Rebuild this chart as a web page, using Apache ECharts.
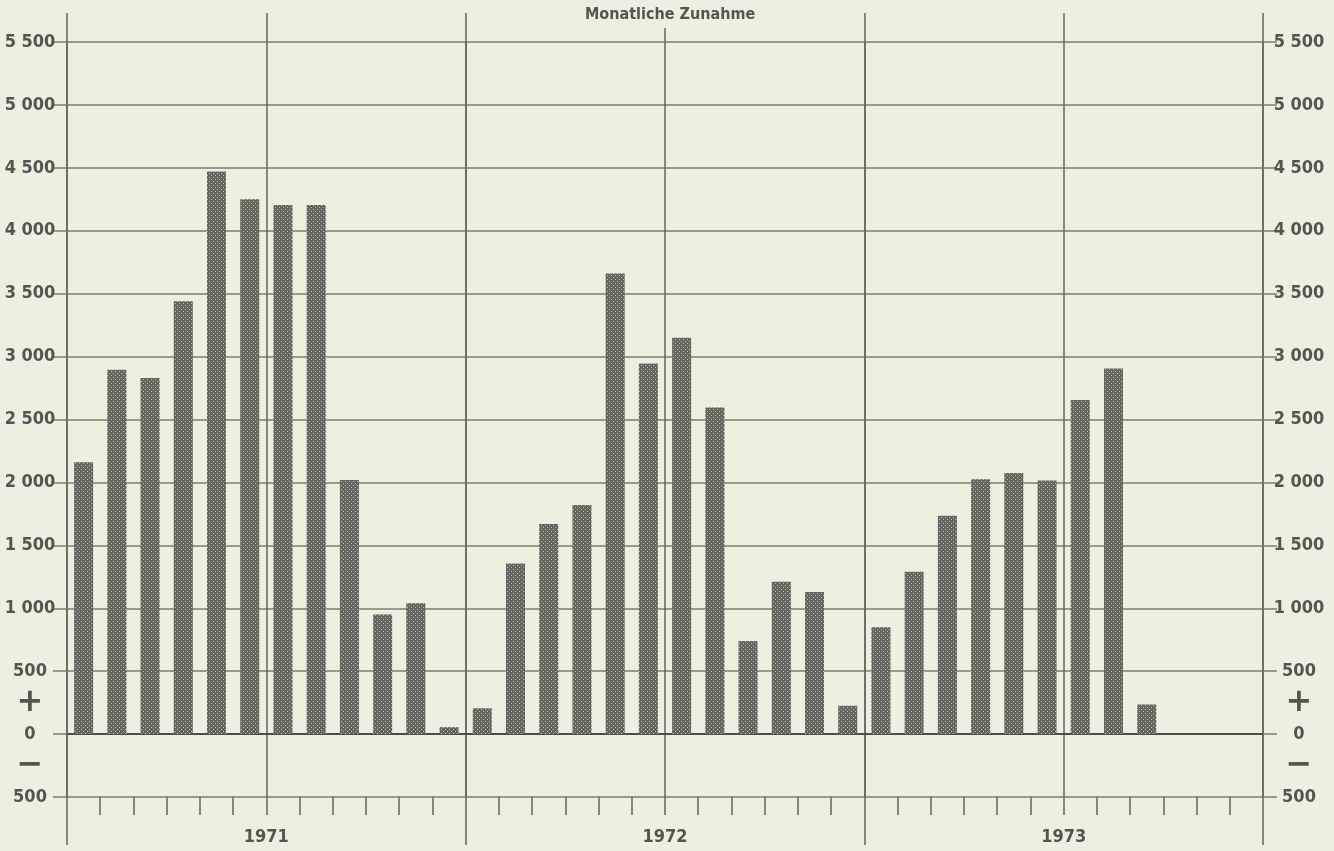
<!DOCTYPE html>
<html><head><meta charset="utf-8">
<script src="https://cdn.jsdelivr.net/npm/echarts@6/dist/echarts.min.js"></script>
<style>html,body{margin:0;padding:0;background:#eeefdf}#c{width:1334px;height:851px}</style>
</head><body><div id="c"></div>
<script>
const chartTitle = 'Monatliche Zunahme';
const years = ['1971', '1972', '1973'];
const monthNames = ['Jan', 'Feb', 'Mär', 'Apr', 'Mai', 'Jun', 'Jul', 'Aug', 'Sep', 'Okt', 'Nov', 'Dez'];
const values1971 = [2160, 2895, 2830, 3440, 4470, 4250, 4205, 4205, 2020, 950, 1040, 55];
const values1972 = [205, 1355, 1670, 1820, 3660, 2945, 3150, 2595, 740, 1210, 1130, 225];
const values1973 = [850, 1290, 1735, 2025, 2075, 2015, 2655, 2905, 235, null, null, null];
const yTicks = [-500, 0, 500, 1000, 1500, 2000, 2500, 3000, 3500, 4000, 4500, 5000, 5500];
const yTickLabels = ['500', '0', '500', '1 000', '1 500', '2 000', '2 500', '3 000', '3 500', '4 000', '4 500', '5 000', '5 500'];
const signValues = [250, -250];
const signLabels = ['+', '\u2212'];

const categories = [];
years.forEach(y => monthNames.forEach(m => categories.push(m + ' ' + y)));
const values = values1971.concat(values1972, values1973);

const BG = '#eeefdf';
const FONT = '"Liberation Sans Narrow","DejaVu Sans Condensed","Roboto Condensed",sans-serif';
const HLINE = '#7b8068';
const VLINE = '#66665e';
const TEXT = '#55554f';

// dotted bar fill
const pc = document.createElement('canvas');
pc.width = 4; pc.height = 4;
const g = pc.getContext('2d');
g.fillStyle = '#66665f'; g.fillRect(0, 0, 4, 4);
g.fillStyle = '#b9b9ac'; g.fillRect(1, 1, 1, 1); g.fillRect(3, 3, 1, 1);

const yLabelFmt = v => { const i = yTicks.indexOf(v); return i >= 0 ? yTickLabels[i] : ''; };
const signFmt = v => { const i = signValues.indexOf(v); return i >= 0 ? signLabels[i] : ''; };
const yearFmt = v => (v % 12 === 6) ? years[(v - 6) / 12] : '';

const yBase = {
  type: 'value', min: -500, max: 5500, interval: 500,
  axisLine: { show: false, onZero: false },
  axisTick: { show: true, length: 14, lineStyle: { color: HLINE, width: 1.5 } },
  axisLabel: { align: 'center', formatter: yLabelFmt, fontFamily: FONT, fontWeight: 'bold', fontSize: 18, color: TEXT }
};
const ySign = {
  type: 'value', min: -500, max: 5500, interval: 250,
  axisLine: { show: false, onZero: false }, axisTick: { show: false }, splitLine: { show: false },
  axisLabel: { align: 'center', formatter: signFmt, fontFamily: 'DejaVu Sans', fontWeight: 'bold', fontSize: 32, color: TEXT }
};
const xVal = {
  type: 'value', min: 0, max: 36,
  axisLine: { show: false, onZero: false }, axisLabel: { show: false }, splitLine: { show: false }
};

const chart = echarts.init(document.getElementById('c'), null, { renderer: 'canvas' });
chart.setOption({
  backgroundColor: BG,
  animation: false,
  title: {
    text: chartTitle, left: 581, top: 4, backgroundColor: BG, padding: [3, 4, 5, 4],
    textStyle: { fontFamily: FONT, fontWeight: 'bold', fontSize: 16, color: TEXT }
  },
  grid: { left: 67, right: 71, top: 42, bottom: 54 },
  xAxis: [
    { type: 'category', data: categories, position: 'bottom',
      axisLine: { show: true, onZero: true, lineStyle: { color: '#4d4d47', width: 2 } },
      axisTick: { show: false }, axisLabel: { show: false }, splitLine: { show: false } },
    Object.assign({}, xVal, { position: 'bottom', interval: 1,
      axisTick: { show: true, length: 18, lineStyle: { color: VLINE, width: 1.5 } } }),
    Object.assign({}, xVal, { position: 'bottom', interval: 12,
      axisTick: { show: true, length: 48, lineStyle: { color: VLINE, width: 1.5 } },
      splitLine: { show: true, lineStyle: { color: VLINE, width: 1.5 } } }),
    Object.assign({}, xVal, { position: 'bottom', interval: 6,
      axisTick: { show: false },
      splitLine: { show: true, lineStyle: { color: VLINE, width: 1.5 } },
      axisLabel: { show: true, formatter: yearFmt, margin: 31, fontFamily: FONT, fontWeight: 'bold', fontSize: 18, color: TEXT } }),
    Object.assign({}, xVal, { position: 'top', interval: 6,
      axisTick: { show: true, length: 29, lineStyle: { color: VLINE, width: 1.5 } } })
  ],
  yAxis: [
    Object.assign({}, yBase, { position: 'left',
      splitLine: { show: true, lineStyle: { color: HLINE, width: 1.5 } },
      axisLabel: Object.assign({}, yBase.axisLabel, { margin: 37 }) }),
    Object.assign({}, yBase, { position: 'right', splitLine: { show: false },
      axisLabel: Object.assign({}, yBase.axisLabel, { margin: 36 }) }),
    Object.assign({}, ySign, { position: 'left', axisLabel: Object.assign({}, ySign.axisLabel, { margin: 37 }) }),
    Object.assign({}, ySign, { position: 'right', axisLabel: Object.assign({}, ySign.axisLabel, { margin: 36 }) })
  ],
  series: [{
    type: 'bar', xAxisIndex: 0, yAxisIndex: 0, data: values, barWidth: 19,
    itemStyle: { color: { image: pc, repeat: 'repeat' } },
    z: 1
  }]
});
</script></body></html>
